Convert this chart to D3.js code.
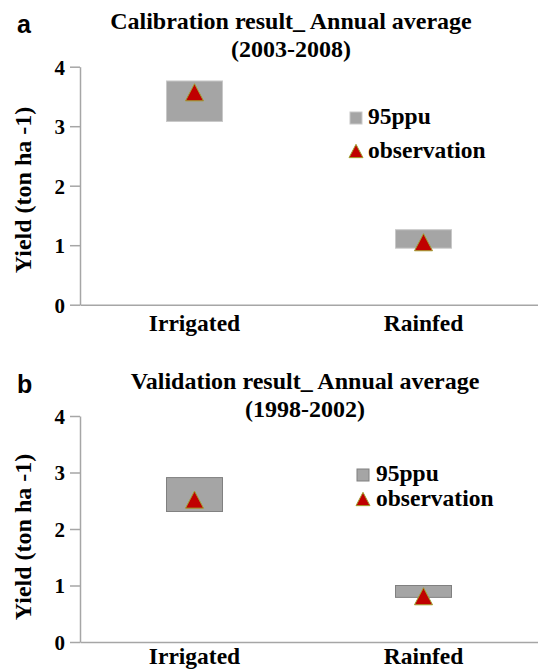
<!DOCTYPE html>
<html>
<head>
<meta charset="utf-8">
<script src="https://cdn.jsdelivr.net/npm/d3@7"></script>
<style>
  body { margin: 0; background: #fff; }
  text { font-family: 'Liberation Serif', 'Times New Roman', serif; font-weight: bold; fill: #000; }
</style>
</head>
<body>
<script>
// categories and y ticks
const categories = ['Irrigated', 'Rainfed']
const yTicks = [0, 1, 2, 3, 4]

// calibration (2003-2008): 95ppu band low/high + observed yield
const calibLow = [3.08, 0.95]
const calibHigh = [3.76, 1.26]
const calibObs = [3.57, 1.05]

// validation (1998-2002)
const validLow = [2.31, 0.79]
const validHigh = [2.91, 1.00]
const validObs = [2.52, 0.81]

const legendLabels = ['95ppu', 'observation']

const width = 538
const height = 672

const svg = d3.select('body').append('svg')
  .attr('width', width)
  .attr('height', height)

// triangle centred on its bounding box (like the spreadsheet marker)
const triangle = {
  draw(context, size) {
    const w = Math.sqrt(size), h = w * 0.95
    context.moveTo(0, -h / 2)
    context.lineTo(w / 2, h / 2)
    context.lineTo(-w / 2, h / 2)
    context.closePath()
  }
}

function drawPanel(p) {
  const g = svg.append('g')

  const x = d3.scaleBand().domain(categories).range([80, 538])
  const y = d3.scaleLinear().domain([0, 4]).range([p.y0, p.y4])

  // panel letter
  g.append('text')
    .attr('x', 17).attr('y', p.letterY)
    .style('font-family', "'Liberation Sans', Arial, sans-serif")
    .style('font-size', '25px')
    .text(p.letter)

  // title
  p.title.forEach(function(t, i) {
    g.append('text')
      .attr('x', p.titleX).attr('y', p.titleY[i])
      .attr('text-anchor', 'middle')
      .style('font-size', '24px')
      .text(t)
  })

  // y axis
  const yAxis = g.append('g')
    .attr('transform', 'translate(80,0)')
    .call(d3.axisLeft(y).tickValues(yTicks).tickFormat(d3.format('d'))
      .tickSize(10).tickSizeOuter(0).tickPadding(5))
  yAxis.selectAll('path, line').attr('stroke', '#a6a6a6').attr('stroke-width', 1.5)
  yAxis.selectAll('text')
    .attr('dy', '0.35em')
    .style('font-family', "'Liberation Serif', 'Times New Roman', serif")
    .style('font-size', '21px')

  // x axis
  const xAxis = g.append('g')
    .attr('transform', 'translate(0,' + p.y0 + ')')
    .call(d3.axisBottom(x).tickSize(0).tickSizeOuter(0).tickPadding(p.xPad))
  xAxis.select('.domain').attr('stroke', '#a6a6a6').attr('stroke-width', 1.5)
  xAxis.selectAll('text')
    .attr('dy', '0.71em')
    .style('font-family', "'Liberation Serif', 'Times New Roman', serif")
    .style('font-size', '23.5px')

  // y axis title
  g.append('text')
    .attr('transform', 'translate(' + p.ylabX + ',' + p.ylabY + ') rotate(-90)')
    .attr('text-anchor', 'middle')
    .style('font-size', '24px')
    .text('Yield (ton ha -1)')

  // 95ppu boxes
  const boxW = 56
  g.selectAll('rect.band')
    .data(categories)
    .enter().append('rect')
    .attr('class', 'band')
    .attr('x', function(d) { return x(d) + x.bandwidth() / 2 - boxW / 2 })
    .attr('y', function(d, i) { return y(p.high[i]) })
    .attr('width', boxW)
    .attr('height', function(d, i) { return y(p.low[i]) - y(p.high[i]) })
    .attr('fill', '#a5a5a5')
    .attr('stroke', p.boxStroke)
    .attr('stroke-width', 1)

  // observations
  const sym = d3.symbol().type(triangle).size(18 * 18)
  g.selectAll('path.obs')
    .data(categories)
    .enter().append('path')
    .attr('class', 'obs')
    .attr('d', sym)
    .attr('transform', function(d, i) {
      return 'translate(' + (x(d) + x.bandwidth() / 2) + ',' + y(p.obs[i]) + ')'
    })
    .attr('fill', '#c00000')
    .attr('stroke', '#a0a030')
    .attr('stroke-width', 1)

  // legend
  const lg = g.append('g').attr('transform', 'translate(' + p.legX + ',' + p.legY + ')')
  lg.append('rect')
    .attr('x', 0).attr('y', -12)
    .attr('width', 12).attr('height', 12)
    .attr('fill', '#a5a5a5').attr('stroke', p.boxStroke)
  lg.append('path')
    .attr('d', d3.symbol().type(triangle).size(14 * 14))
    .attr('transform', 'translate(6,' + (p.legGap - 7) + ')')
    .attr('fill', '#c00000').attr('stroke', '#a0a030')
  legendLabels.forEach(function(t, i) {
    lg.append('text')
      .attr('x', p.legTextDx).attr('y', i * p.legGap)
      .style('font-size', '23.5px')
      .text(t)
  })
}

drawPanel({
  letter: 'a', letterY: 33,
  title: ['Calibration result_ Annual average', '(2003-2008)'],
  titleX: 291, titleY: [29, 57],
  y0: 304.7, y4: 66.7, xPad: 10,
  ylabX: 31, ylabY: 190,
  low: calibLow, high: calibHigh, obs: calibObs,
  boxStroke: '#c8c8c8',
  legX: 350, legY: 124, legGap: 34, legTextDx: 18
})

drawPanel({
  letter: 'b', letterY: 393,
  title: ['Validation result_ Annual average', '(1998-2002)'],
  titleX: 305, titleY: [389, 417],
  y0: 642, y4: 416, xPad: 5,
  ylabX: 31, ylabY: 537,
  low: validLow, high: validHigh, obs: validObs,
  boxStroke: '#808080',
  legX: 357, legY: 481, legGap: 25, legTextDx: 19
})
</script>
</body>
</html>
